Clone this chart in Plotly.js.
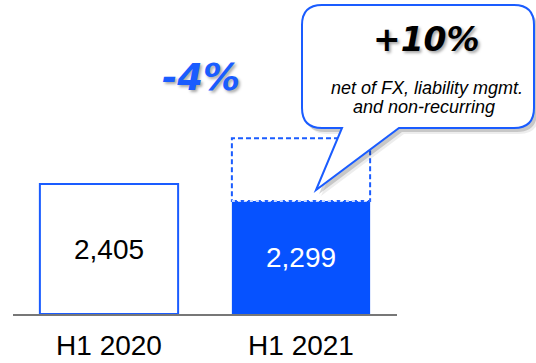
<!DOCTYPE html>
<html>
<head>
<meta charset="utf-8">
<script src="https://cdn.plot.ly/plotly-3.0.1.min.js"></script>
<style>html,body{margin:0;padding:0;background:#fff;}#chart{width:536px;height:363px;}</style>
</head>
<body>
<div id="chart"></div>
<script>
// ---- data ----
const categories = ['H1 2020', 'H1 2021'];
const values = [2405, 2299];
const adjusted2021 = 2690;          // dashed "adjusted" level for H1 2021
const barLabels = values.map(v => v.toLocaleString('en-US'));
const changeLabel = '-4%';
const adjChangeLabel = '+10%';
const noteLines = ['net of FX, liability mgmt.', 'and non-recurring'];

// ---- styling / geometry ----
const AXIS_MIN = 1594, AXIS_MAX = 3553;
const BAR_W = 0.72;
const BLUE = '#0652ff', LINE_BLUE = '#1a5cff';
const W = 536, H = 363, ML = 13, MR = 139, MT = 0, MB = 49;
const PW = W - ML - MR, PH = H - MT - MB;
const px = p => (p - ML) / PW;
const py = p => (MT + PH - p) / PH;

function bubblePath(dx, dy) {
  const l = 302 + dx, r = 534 + dx, t = 5 + dy, b = 128 + dy, rad = 20;
  const tl = 342 + dx, tr = 399 + dx, tipx = 316 + dx, tipy = 190 + dy;
  const P = (x, y) => px(x) + ',' + py(y);
  return 'M' + P(l + rad, t) + ' L' + P(r - rad, t) + ' Q' + P(r, t) + ' ' + P(r, t + rad) +
    ' L' + P(r, b - rad) + ' Q' + P(r, b) + ' ' + P(r - rad, b) +
    ' L' + P(tr, b) + ' L' + P(tipx, tipy) + ' L' + P(tl, b) +
    ' L' + P(l + rad, b) + ' Q' + P(l, b) + ' ' + P(l, b - rad) +
    ' L' + P(l, t + rad) + ' Q' + P(l, t) + ' ' + P(l + rad, t) + ' Z';
}

const trace = {
  type: 'bar',
  x: categories,
  base: AXIS_MIN,
  y: values.map(v => v - AXIS_MIN),
  width: BAR_W,
  text: barLabels,
  textposition: 'inside',
  insidetextanchor: 'middle',
  constraintext: 'none',
  textangle: 0,
  textfont: { family: 'Liberation Sans, Arial, sans-serif', size: 28, color: ['#000000', '#ffffff'] },
  marker: { color: ['#ffffff', BLUE], line: { color: [LINE_BLUE, BLUE], width: [2, 0] } },
  hoverinfo: 'skip'
};

const shapes = [
  // dashed adjusted outline
  { type: 'rect', xref: 'x', yref: 'y', x0: 1 - BAR_W / 2, x1: 1 + BAR_W / 2, y0: values[1], y1: adjusted2021,
    line: { color: LINE_BLUE, width: 2, dash: '5px,3px' }, fillcolor: 'rgba(0,0,0,0)', layer: 'above' },
  { type: 'line', xref: 'x', yref: 'y', x0: 1 - BAR_W / 2, x1: 1 + BAR_W / 2, y0: values[1], y1: values[1],
    line: { color: '#ffffff', width: 1.5, dash: '3px,3px' }, layer: 'above' },
  // bubble shadow + bubble
  { type: 'path', xref: 'paper', yref: 'paper', path: bubblePath(5, 6), fillcolor: 'rgba(0,0,0,0.07)', line: { width: 0 }, layer: 'above' },
  { type: 'path', xref: 'paper', yref: 'paper', path: bubblePath(3, 4), fillcolor: 'rgba(0,0,0,0.16)', line: { width: 0 }, layer: 'above' },
  { type: 'path', xref: 'paper', yref: 'paper', path: bubblePath(0, 0), fillcolor: '#ffffff', line: { color: LINE_BLUE, width: 2 }, layer: 'above' }
];

const annotations = [
  { xref: 'paper', yref: 'paper', x: px(201), y: py(78), xanchor: 'center', yanchor: 'middle', showarrow: false,
    text: changeLabel, font: { family: 'DejaVu Sans, sans-serif', size: 37, color: LINE_BLUE, weight: 'bold', style: 'italic', shadow: '2px 2px 3px rgba(0,0,0,0.35)' } },
  { xref: 'paper', yref: 'paper', x: px(426), y: py(40), xanchor: 'center', yanchor: 'middle', showarrow: false,
    text: adjChangeLabel, font: { family: 'DejaVu Sans, sans-serif', size: 33, color: '#000000', weight: 'bold', style: 'italic', shadow: '2px 2px 3px rgba(0,0,0,0.35)' } },
  { xref: 'paper', yref: 'paper', x: px(427), y: py(88), xanchor: 'center', yanchor: 'middle', showarrow: false,
    text: noteLines[0], font: { family: 'Liberation Sans, Arial, sans-serif', size: 18, color: '#000000', style: 'italic' } },
  { xref: 'paper', yref: 'paper', x: px(424), y: py(107), xanchor: 'center', yanchor: 'middle', showarrow: false,
    text: noteLines[1], font: { family: 'Liberation Sans, Arial, sans-serif', size: 18, color: '#000000', style: 'italic' } }
];

const layout = {
  width: W, height: H,
  margin: { l: ML, r: MR, t: MT, b: MB, pad: 0 },
  paper_bgcolor: '#ffffff', plot_bgcolor: '#ffffff',
  showlegend: false,
  xaxis: { type: 'category', range: [-0.5, 1.5], showline: true, linecolor: '#777777', linewidth: 2,
    ticks: '', ticklabelstandoff: 5, showgrid: false, zeroline: false, fixedrange: true,
    tickfont: { family: 'Liberation Sans, Arial, sans-serif', size: 28, color: '#000000' } },
  yaxis: { range: [AXIS_MIN, AXIS_MAX], visible: false, showgrid: false, zeroline: false, fixedrange: true },
  shapes: shapes,
  annotations: annotations
};

Plotly.newPlot('chart', [trace], layout, { displayModeBar: false, staticPlot: true });
</script>
</body>
</html>
